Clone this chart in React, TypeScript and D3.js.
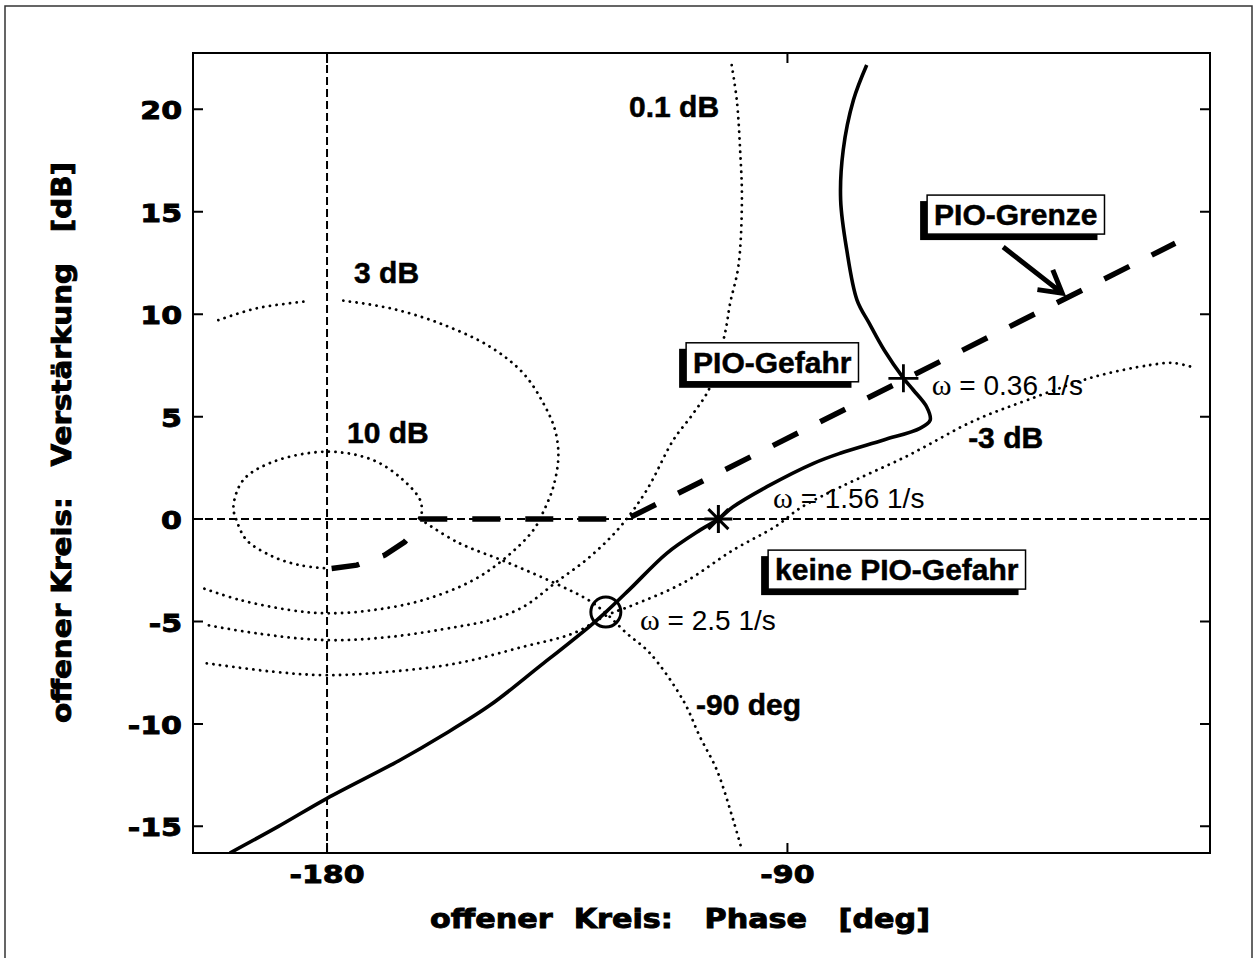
import React, { useRef, useEffect } from 'react';
import * as d3 from 'd3';

const W = 1257;
const H = 958;

// open loop frequency response, low to high frequency (phase deg / gain dB)
const loopPhase = [-74.5, -77.1, -79.1, -79.6, -78.4, -76.4, -74.0, -71.1, -67.3, -65.4, -62.8, -62.1, -64.1, -71.2, -79.7, -84.9, -94.0, -100.6, -103.5, -107.1, -113.6, -120.8, -125.5, -128.6, -138.4, -148.1, -157.3, -165.7, -180.0, -189.5, -199.0];
const loopGain = [22.16, 20.45, 18.01, 15.57, 13.13, 10.69, 9.55, 8.25, 6.87, 6.3, 5.48, 4.83, 4.43, 3.86, 3.21, 2.72, 1.58, 0.6, 0.0, -0.54, -1.67, -3.42, -4.54, -5.22, -7.18, -9.08, -10.54, -11.76, -13.63, -15.0, -16.3];

// PIO boundary
const pioPhase = [-179.1, -174.2, -168.7, -164.8, -162.8, -161.8, -121.4, -14.2];
const pioGain = [-2.41, -2.25, -1.76, -1.11, -0.54, 0, 0, 13.46];

// closed loop contours
const m01Phase = [-100.9, -99.9, -99.25, -98.9, -99.6, -101.2, -102.2, -105.1, -108.4, -112.3, -117.5, -122.7, -128.6, -135.1, -141.6, -148.1, -154.6, -167.7, -180.0, -193.7, -203.5];
const m01Gain = [22.16, 20.45, 18.01, 15.57, 12.32, 10.54, 9.08, 6.46, 5.16, 3.86, 1.42, -0.38, -1.84, -3.06, -4.28, -4.93, -5.26, -5.75, -5.91, -5.58, -5.17];

const m3Phase = [-201.25, -193.74, -184.63, NaN, -176.81, -167.68, -157.91, -148.13, -141.62, -137.71, -135.42, -134.78, -135.76, -137.71, -139.67, -144.87, -151.4, -161.17, -170.95, -180.0, -187.23, -197.01, -204.18];
const m3Gain = [9.71, 10.29, 10.61, NaN, 10.66, 10.29, 9.55, 8.41, 7.11, 5.65, 4.34, 3.04, 1.58, 0.36, -0.54, -1.84, -2.98, -3.95, -4.44, -4.6, -4.44, -3.95, -3.38];

const m10Phase = [-161.8, -161.5, -161.8, -165.1, -171.0, -180.0, -190.5, -196.4, -198.3, -197.7, -195.7, -190.5, -185.3, -180.0];
const m10Gain = [0, 0.28, 0.93, 1.9, 2.88, 3.29, 2.8, 1.9, 0.6, -0.05, -1.03, -1.84, -2.25, -2.41];

const mNeg3Phase = [-203.5, -190.5, -180.0, -167.7, -154.6, -141.6, -131.9, -125.3, -120.2, -110.4, -100.6, -92.2, -87.5, -79.7, -66.6, -53.7, -43.1, -30.2, -19.1, -14.6, -10.9];
const mNeg3Gain = [-7.04, -7.45, -7.62, -7.45, -7.04, -6.23, -5.58, -4.69, -4.2, -3.12, -1.51, -0.34, 0.54, 1.56, 3.08, 4.78, 5.81, 6.93, 7.52, 7.62, 7.42];

const ph90Phase = [-161.8, -154.6, -144.9, -135.1, -128.6, -125.3, -121.4, -116.9, -110.4, -107.1, -103.8, -100.6, -98.9];
const ph90Gain = [0, -1.12, -2.1, -3.17, -4.0, -4.64, -5.58, -6.54, -8.84, -10.63, -12.25, -14.69, -16.16];

// frequency markers
const markerPhase = [-67.33, -103.5, -125.5];
const markerGain = [6.87, 0, -4.54];
const markerShape = ['plus', 'star', 'circle'];
const markerText = ['0.36 1/s', '1.56 1/s', '2.5 1/s'];
const markerTextPhase = [-61.78, -92.8, -118.81];
const markerTextGain = [6.05, 0.54, -5.42];

const contourLabels = ['0.1 dB', '3 dB', '10 dB', '-3 dB', '-90 deg'];
const contourLabelPhase = [-120.96, -174.72, -176.09, -54.68, -107.86];
const contourLabelGain = [19.62, 11.52, 3.71, 3.47, -9.57];

const boxLabels = ['PIO-Grenze', 'PIO-Gefahr', 'keine PIO-Gefahr'];
const boxLabelPhase = [-61.33, -108.44, -92.41];
const boxLabelGain = [14.35, 7.14, -2.98];

const arrowPhase = [-47.83, -36.3];
const arrowGain = [13.28, 11.03];

const xTicks = [-180, -90];
const yTicks = [-15, -10, -5, 0, 5, 10, 15, 20];

export default function App() {
  const ref = useRef<SVGSVGElement>(null);

  useEffect(() => {
    if (!ref.current) return;
    document.body.style.margin = '0';
    const svg = d3.select(ref.current);
    svg.selectAll('*').remove();

    const x = d3.scaleLinear().domain([-206.2, -7.4]).range([193, 1210]);
    const y = d3.scaleLinear().domain([-16.3, 22.75]).range([853, 53]);
    const [x0, x1] = x.range();
    const [y0, y1] = y.range();

    svg.append('rect').attr('width', W).attr('height', H).attr('fill', '#fff');
    // outer frame
    svg.append('rect')
      .attr('x', 5).attr('y', 6).attr('width', 1247).attr('height', 960)
      .attr('fill', 'none').attr('stroke', '#333').attr('stroke-width', 1.5);

    svg.append('defs').append('clipPath').attr('id', 'plotclip')
      .append('rect').attr('x', x0).attr('y', y1).attr('width', x1 - x0).attr('height', y0 - y1);
    const plot = svg.append('g').attr('clip-path', 'url(#plotclip)');

    const path = (px: number[], py: number[], curve: d3.CurveFactory) =>
      d3.line<number>()
        .defined(i => !isNaN(px[i]))
        .x(i => x(px[i]))
        .y(i => y(py[i]))
        .curve(curve)(d3.range(px.length));

    // dotted contours
    const contours: [number[], number[]][] = [
      [m01Phase, m01Gain], [m3Phase, m3Gain], [m10Phase, m10Gain],
      [mNeg3Phase, mNeg3Gain], [ph90Phase, ph90Gain],
    ];
    contours.forEach(([px, py]) => {
      plot.append('path')
        .attr('d', path(px, py, d3.curveCatmullRom.alpha(0.5)))
        .attr('fill', 'none').attr('stroke', '#000').attr('stroke-width', 2.8)
        .attr('stroke-linecap', 'round').attr('stroke-dasharray', '0.1 6.6');
    });

    // reference lines at -180 deg and 0 dB
    plot.append('line')
      .attr('x1', x(-180)).attr('x2', x(-180)).attr('y1', y1).attr('y2', y0)
      .attr('stroke', '#000').attr('stroke-width', 2).attr('stroke-dasharray', '8 4');
    plot.append('line')
      .attr('x1', x0).attr('x2', x1).attr('y1', y(0)).attr('y2', y(0))
      .attr('stroke', '#000').attr('stroke-width', 2).attr('stroke-dasharray', '8 4');

    // open loop curve
    plot.append('path')
      .attr('d', path(loopPhase, loopGain, d3.curveCatmullRom.alpha(0.5)))
      .attr('fill', 'none').attr('stroke', '#000').attr('stroke-width', 3.6)
      .attr('stroke-linejoin', 'round');

    // PIO boundary
    plot.append('path')
      .attr('d', path(pioPhase, pioGain, d3.curveLinear))
      .attr('fill', 'none').attr('stroke', '#000').attr('stroke-width', 5.5)
      .attr('stroke-dasharray', '28 25');

    // markers
    markerShape.forEach((s, i) => {
      const cx = x(markerPhase[i]);
      const cy = y(markerGain[i]);
      if (s === 'circle') {
        svg.append('circle').attr('cx', cx).attr('cy', cy).attr('r', 15)
          .attr('fill', 'none').attr('stroke', '#000').attr('stroke-width', 3);
      } else if (s === 'plus') {
        svg.append('path')
          .attr('d', `M${cx - 15},${cy}H${cx + 15}M${cx},${cy - 14}V${cy + 14}`)
          .attr('stroke', '#000').attr('stroke-width', 2.8);
      } else {
        const d = 10;
        svg.append('path')
          .attr('d', `M${cx - 14},${cy}H${cx + 14}M${cx},${cy - 14}V${cy + 14}M${cx - d},${cy - d}L${cx + d},${cy + d}M${cx - d},${cy + d}L${cx + d},${cy - d}`)
          .attr('stroke', '#000').attr('stroke-width', 3);
      }
      const t = svg.append('text')
        .attr('x', x(markerTextPhase[i])).attr('y', y(markerTextGain[i]))
        .attr('font-family', 'Liberation Sans, Arial, sans-serif').attr('font-size', 28)
        .attr('fill', '#000').attr('xml:space', 'preserve').style('white-space', 'pre');
      t.append('tspan').attr('font-family', 'Liberation Serif, serif').attr('font-size', 30).text('ω');
      t.append('tspan').text(' = ' + markerText[i]);
    });

    const boldLabel = (sel: d3.Selection<SVGTextElement, unknown, null, undefined>) =>
      sel.attr('font-family', 'Liberation Sans, Arial, sans-serif').attr('font-weight', 'bold')
        .attr('font-size', 30).attr('fill', '#000')
        .attr('stroke', '#000').attr('stroke-width', 0.5);

    // contour labels
    contourLabels.forEach((l, i) => {
      boldLabel(svg.append('text')
        .attr('x', x(contourLabelPhase[i])).attr('y', y(contourLabelGain[i])))
        .text(l);
    });

    // boxed labels with shadow
    boxLabels.forEach((l, i) => {
      const tx = x(boxLabelPhase[i]);
      const ty = y(boxLabelGain[i]);
      const g = svg.append('g');
      const shadow = g.append('rect').attr('fill', '#000');
      const box = g.append('rect').attr('fill', '#fff').attr('stroke', '#000').attr('stroke-width', 1.5);
      const t = boldLabel(g.append('text').attr('x', tx).attr('y', ty)).text(l);
      const w = (t.node() as SVGTextElement).getComputedTextLength();
      const bx = tx - 7;
      const by = ty - 30;
      const bw = w + 14;
      const bh = 39;
      box.attr('x', bx).attr('y', by).attr('width', bw).attr('height', bh);
      shadow.attr('x', bx - 7).attr('y', by + 6).attr('width', bw).attr('height', bh);
    });

    // arrow to the PIO boundary
    const ax0 = x(arrowPhase[0]), ay0 = y(arrowGain[0]);
    const ax1 = x(arrowPhase[1]), ay1 = y(arrowGain[1]);
    const ang = Math.atan2(ay1 - ay0, ax1 - ax0);
    const hl = 25;
    const hp = (a: number) => [ax1 - hl * Math.cos(ang + a), ay1 - hl * Math.sin(ang + a)];
    const [hx1, hy1] = hp(Math.PI / 6);
    const [hx2, hy2] = hp(-Math.PI / 6);
    svg.append('path')
      .attr('d', `M${ax0},${ay0}L${ax1},${ay1}M${hx1},${hy1}L${ax1},${ay1}L${hx2},${hy2}`)
      .attr('fill', 'none').attr('stroke', '#000').attr('stroke-width', 5);

    // axes box and ticks
    svg.append('rect')
      .attr('x', x0).attr('y', y1).attr('width', x1 - x0).attr('height', y0 - y1)
      .attr('fill', 'none').attr('stroke', '#000').attr('stroke-width', 2);
    const tl = 10;
    const axisFont = (sel: d3.Selection<SVGTextElement, unknown, null, undefined>) =>
      sel.attr('font-family', 'DejaVu Sans, sans-serif').attr('font-weight', 'bold')
        .attr('fill', '#000').attr('stroke', '#000').attr('stroke-width', 0.9);
    yTicks.forEach(v => {
      const ty = y(v);
      svg.append('path').attr('d', `M${x0},${ty}h${tl}M${x1},${ty}h${-tl}`)
        .attr('stroke', '#000').attr('stroke-width', 2);
      axisFont(svg.append('text')
        .attr('transform', `translate(182,${ty + 10}) scale(1.2,1)`)
        .attr('text-anchor', 'end').attr('font-size', 25))
        .text(String(v));
    });
    xTicks.forEach(v => {
      const tx = x(v);
      svg.append('path').attr('d', `M${tx},${y0}v${-tl}M${tx},${y1}v${tl}`)
        .attr('stroke', '#000').attr('stroke-width', 2);
      axisFont(svg.append('text')
        .attr('transform', `translate(${tx},${y0 + 30}) scale(1.2,1)`)
        .attr('text-anchor', 'middle').attr('font-size', 25))
        .text(String(v));
    });

    // axis titles
    axisFont(svg.append('text')
      .attr('x', 430).attr('y', 928)
      .attr('textLength', 500).attr('lengthAdjust', 'spacingAndGlyphs')
      .attr('xml:space', 'preserve').style('white-space', 'pre')
      .attr('font-size', 26))
      .text('offener  Kreis:   Phase   [deg]');
    axisFont(svg.append('text')
      .attr('transform', 'translate(71,723) rotate(-90)')
      .attr('x', 0).attr('y', 0)
      .attr('textLength', 561).attr('lengthAdjust', 'spacingAndGlyphs')
      .attr('xml:space', 'preserve').style('white-space', 'pre')
      .attr('font-size', 26))
      .text('offener Kreis:   Verstärkung   [dB]');
  }, []);

  return <svg ref={ref} width={W} height={H} style={{ display: 'block' }} />;
}
